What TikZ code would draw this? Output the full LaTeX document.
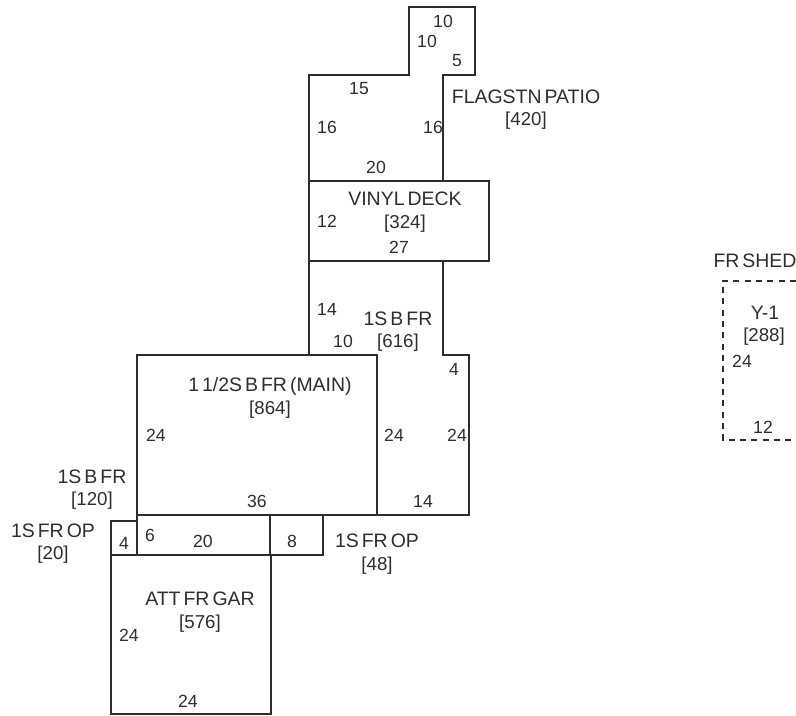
\documentclass[tikz,border=0pt]{standalone}
\usepackage{fontspec}
\setmainfont[WordSpace=0.55]{Liberation Sans}
\definecolor{ink}{HTML}{2E2E2E}
\tikzset{
  wall/.style={draw=ink,line width=1.5pt,line join=miter,fill=none},
  dashwall/.style={draw=ink,line width=1.5pt,dash pattern=on 4.5pt off 4pt},
  lab/.style={inner sep=0pt,text=ink,font=\fontsize{13.2pt}{15pt}\selectfont,anchor=center},
  caption/.style={lab,font=\fontsize{14.6pt}{16pt}\selectfont},
  areatext/.style={lab,font=\fontsize{14pt}{16pt}\selectfont,yshift=-1.2pt}
}
\begin{document}
\begin{tikzpicture}[x=0.75pt,y=-0.75pt]
\useasboundingbox (0,0) rectangle (796,715);
% outlines
\draw[wall] (309,181) -- (309,74.5) -- (409,74.5) -- (409,7) -- (475,7) -- (475,74.5) -- (443,74.5) -- (443,181);
\draw[wall] (309,181) rectangle (489,261);
\draw[wall] (309,261) -- (309,355);
\draw[wall] (443,261) -- (443,355) -- (469,355) -- (469,515) -- (377,515);
\draw[wall] (137,355) rectangle (377,515);
\draw[wall] (137,515) -- (323,515) -- (323,555) -- (111,555) -- (111,521) -- (137,521);
\draw[wall] (137,515) -- (137,555);
\draw[wall] (269.5,515) -- (269.5,555);
\draw[wall] (111,555) -- (271,555) -- (271,714) -- (111,714) -- cycle;
\draw[dashwall] (796,280.5) -- (723,280.5) -- (723,440) -- (796,440);
% labels
\node[lab] (a1) at (443,21) {10};
\node[lab] (a2) at (427,41) {10};
\node[lab] (a3) at (457,61) {5};
\node[caption] (a4) at (526,97) {FLAGSTN PATIO};
\node[areatext] (a5) at (526,119) {[420]};
\node[lab] (a6) at (359,89) {15};
\node[lab] (a7) at (327,127) {16};
\node[lab] (a8) at (433,127) {16};
\node[lab] (a9) at (376,167) {20};
\node[caption] (b1) at (405,199) {VINYL DECK};
\node[areatext] (b2) at (405,222) {[324]};
\node[lab] (b3) at (327,221) {12};
\node[lab] (b4) at (399,247) {27};
\node[lab] (c1) at (327,309) {14};
\node[caption] (c2) at (398,319) {1S B FR};
\node[areatext] (c3) at (398,341) {[616]};
\node[lab] (c4) at (343,341) {10};
\node[lab] (c5) at (454,369) {4};
\node[caption] (d1) at (270,386) {1 1/2S B FR (MAIN)};
\node[areatext] (d2) at (270,408) {[864]};
\node[lab] (d3) at (156,435) {24};
\node[lab] (d4) at (394,435) {24};
\node[lab] (d5) at (457,435) {24};
\node[lab] (d6) at (257,501) {36};
\node[lab] (d7) at (423,501) {14};
\node[caption] (e1) at (92,477) {1S B FR};
\node[areatext] (e2) at (92,499) {[120]};
\node[caption] (e3) at (53,531) {1S FR OP};
\node[areatext] (e4) at (53,553) {[20]};
\node[lab] (e5) at (124,543) {4};
\node[lab] (e6) at (150,535) {6};
\node[lab] (e7) at (203,541) {20};
\node[lab] (e8) at (292,541) {8};
\node[caption] (e9) at (377,541) {1S FR OP};
\node[areatext] (e10) at (377,564) {[48]};
\node[caption] (f1) at (200,599) {ATT FR GAR};
\node[areatext] (f2) at (200,622) {[576]};
\node[lab] (f3) at (129,635) {24};
\node[lab] (f4) at (188,701) {24};
\node[caption] (g1) at (755,261) {FR SHED};
\node[caption] (g2) at (765,313) {Y-1};
\node[areatext] (g3) at (764,335) {[288]};
\node[lab] (g4) at (742,361) {24};
\node[lab] (g5) at (763,427) {12};
\end{tikzpicture}
\end{document}
